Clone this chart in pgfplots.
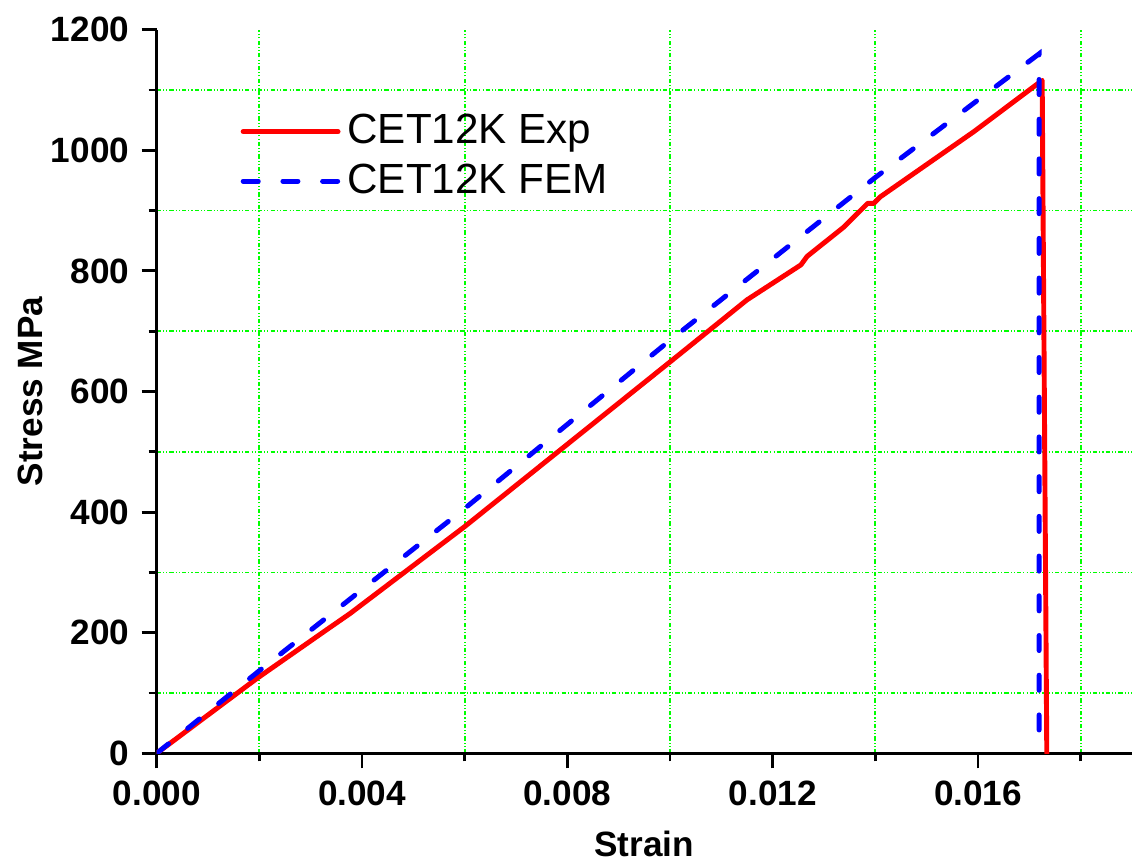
\documentclass[border=0pt]{standalone}
\usepackage{fontspec}
\setmainfont{Liberation Sans}
\usepackage{pgfplots}
\pgfplotsset{compat=1.18}

% stress-strain data
\pgfplotstableread{
x y
0 0
0.00195 124
0.00338 209
0.00377 232
0.006 376
0.010 649
0.0115 752
0.01255 810
0.01267 824
0.01339 873
0.01385 912
0.01397 912
0.0141 923
0.01592 1031
0.01725 1116
0.01734 0
}\exptable
\pgfplotstableread{
x y
0 0
0.002 137
0.006 406
0.010 685
0.01397 953
0.01719 1160
0.01719 0
}\femtable

\begin{document}
\begin{tikzpicture}
\path[use as bounding box] (-15.67mm,-10.97mm) rectangle (97.53mm,75.33mm);
\begin{axis}[
    at={(0,0)}, anchor=origin,
    scale only axis,
    width=97.53mm, height=72.36mm,
    xmin=0, xmax=0.019,
    ymin=0, ymax=1200,
    axis x line*=bottom, axis y line*=left,
    axis line style={-, line width=0.8pt},
    xtick={0,0.004,0.008,0.012,0.016},
    minor xtick={0.002,0.006,0.010,0.014,0.018},
    ytick={0,200,...,1200},
    minor ytick={100,300,...,1100},
    tick align=outside,
    major tick length=4.3pt, minor tick length=2.3pt,
    tick style={black, line width=0.8pt},
    grid=minor,
    minor grid style={green, line width=0.5pt,
        dash pattern=on 1.2pt off 0.6pt on 0.3pt off 0.6pt on 0.3pt off 0.6pt},
    scaled x ticks=false,
    xticklabel style={/pgf/number format/.cd, fixed, fixed zerofill, precision=3},
    yticklabel style={/pgf/number format/1000 sep={}},
    /pgf/number format/assume math mode=true,
    ticklabel style={font=\bfseries\fontsize{10}{12}\selectfont},
    xlabel={Strain}, ylabel={Stress MPa},
    label style={font=\bfseries\fontsize{10}{12}\selectfont},
    xlabel style={yshift=-0.3pt},
    ylabel style={yshift=-4.5pt},
    legend style={draw=none, fill=none, at={(0.0854,0.825)}, anchor=west,
        font=\fontsize{12}{14}\selectfont, row sep=0.2pt, inner sep=0pt},
    legend cell align=left,
    legend image code/.code={\draw[#1] (0pt,0pt) -- (27pt,0pt);},
]
\addplot[red, line width=1.4pt, line join=round, line cap=round] table[x=x, y=y] {\exptable};
\addlegendentry{CET12K Exp}
\addplot[blue, line width=1.4pt, line cap=round, dash pattern=on 4.3pt off 7pt] table[x=x, y=y] {\femtable};
\addlegendentry{CET12K FEM}
\end{axis}
\end{tikzpicture}
\end{document}
